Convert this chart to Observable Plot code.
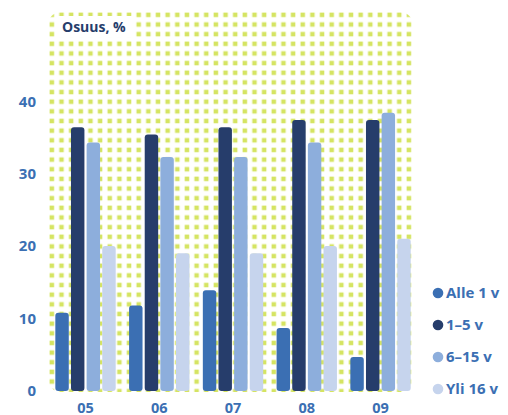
<!DOCTYPE html>
<html>
<head>
<meta charset="utf-8">
<script src="https://cdn.jsdelivr.net/npm/d3@7"></script>
<script src="https://cdn.jsdelivr.net/npm/@observablehq/plot@0.6"></script>
<style>
  html, body { margin: 0; padding: 0; background: #fff; }
  #chart { width: 508px; height: 415px; }
  svg { font-family: "Open Sans", "Noto Sans", sans-serif; }
</style>
</head>
<body>
<div id="chart"></div>
<script>
const years = ["05", "06", "07", "08", "09"];
const series = ["Alle 1 v", "1–5 v", "6–15 v", "Yli 16 v"];
const alle1 = [10.8, 11.8, 13.9, 8.7, 4.7];
const v1to5 = [36.4, 35.4, 36.4, 37.4, 37.4];
const v6to15 = [34.3, 32.3, 32.3, 34.3, 38.4];
const yli16 = [20.0, 19.0, 19.0, 20.0, 21.0];
const yTicks = [0, 10, 20, 30, 40];
const colors = ["#3b6fb3", "#263d6b", "#8daedc", "#c6d4ed"];
const titleText = "Osuus, %";

const valuesBySeries = [alle1, v1to5, v6to15, yli16];
const data = [];
years.forEach((yr, i) => {
  series.forEach((s, j) => data.push({year: yr, series: s, value: valuesBySeries[j][i]}));
});

const W = 508, H = 415;
const mL = 48, mR = 95, mT = 12, mB = 24;

const plot = Plot.plot({
  width: W,
  height: H,
  marginLeft: mL,
  marginRight: mR,
  marginTop: mT,
  marginBottom: mB,
  style: {background: "transparent", fontFamily: "'Open Sans', 'Noto Sans', sans-serif"},
  fx: {domain: years, paddingInner: 0.173, paddingOuter: 0.061, align: 0.78, round: false, label: null, axis: null},
  x: {domain: series, axis: null, paddingInner: 0.14, paddingOuter: 0.02, round: false},
  y: {domain: [0, 52.3], axis: null},
  color: {domain: series, range: colors},
  facet: {marginRight: 0, marginLeft: 0},
  marks: [
    Plot.barY(data, {fx: "year", x: "series", y: "value", fill: "series", rx: 3})
  ]
});

const svg = d3.select(plot);
const fx = plot.scale("fx");
const y = plot.scale("y");
const color = plot.scale("color");

// background pattern panel
const defs = svg.insert("defs", ":first-child");
const pitch = 9.65;
const pat = defs.append("pattern")
  .attr("id", "dots").attr("patternUnits", "userSpaceOnUse")
  .attr("width", pitch).attr("height", pitch)
  .attr("x", 49).attr("y", 12);
pat.append("rect").attr("x", 0.6).attr("y", 0.6).attr("width", 4.5).attr("height", 4.5)
  .attr("fill", "#d5e462");
const panelRight = W - mR;
svg.insert("rect", "defs + *")
  .attr("x", mL).attr("y", mT)
  .attr("width", panelRight - mL).attr("height", (H - mB) - mT + 1)
  .attr("rx", 13).attr("fill", "url(#dots)");

// white box for title
svg.append("rect").attr("x", 56).attr("y", 16).attr("width", 78).attr("height", 21).attr("fill", "#fff");
svg.append("text").attr("x", 62).attr("y", 32).attr("text-anchor", "start")
  .attr("font-size", 14).attr("font-weight", 700).attr("fill", "#263d6b")
  .text(titleText);

// y axis labels
const gy = svg.append("g");
yTicks.forEach(t => {
  gy.append("text").attr("x", 36).attr("y", y.apply(t)).attr("dy", "0.36em")
    .attr("text-anchor", "end").attr("font-size", 15).attr("font-weight", 700)
    .attr("fill", "#3b6fb3").text(t);
});

// fx axis labels
const bw = fx.bandwidth;
years.forEach(yr => {
  svg.append("text").attr("x", fx.apply(yr) + bw / 2).attr("y", 412.5)
    .attr("text-anchor", "middle").attr("font-size", 14.5).attr("font-weight", 700)
    .attr("fill", "#3b6fb3").text(yr);
});

// legend
const lg = svg.append("g");
series.forEach((s, i) => {
  const cy = 293 + i * 32;
  lg.append("circle").attr("cx", 438).attr("cy", cy).attr("r", 5.3).attr("fill", color.apply(s));
  lg.append("text").attr("x", 446).attr("y", cy).attr("dy", "0.36em").attr("text-anchor", "start")
    .attr("font-size", 15).attr("font-weight", 700).attr("fill", "#3b6fb3").text(s);
});

document.getElementById("chart").appendChild(plot);
</script>
</body>
</html>
